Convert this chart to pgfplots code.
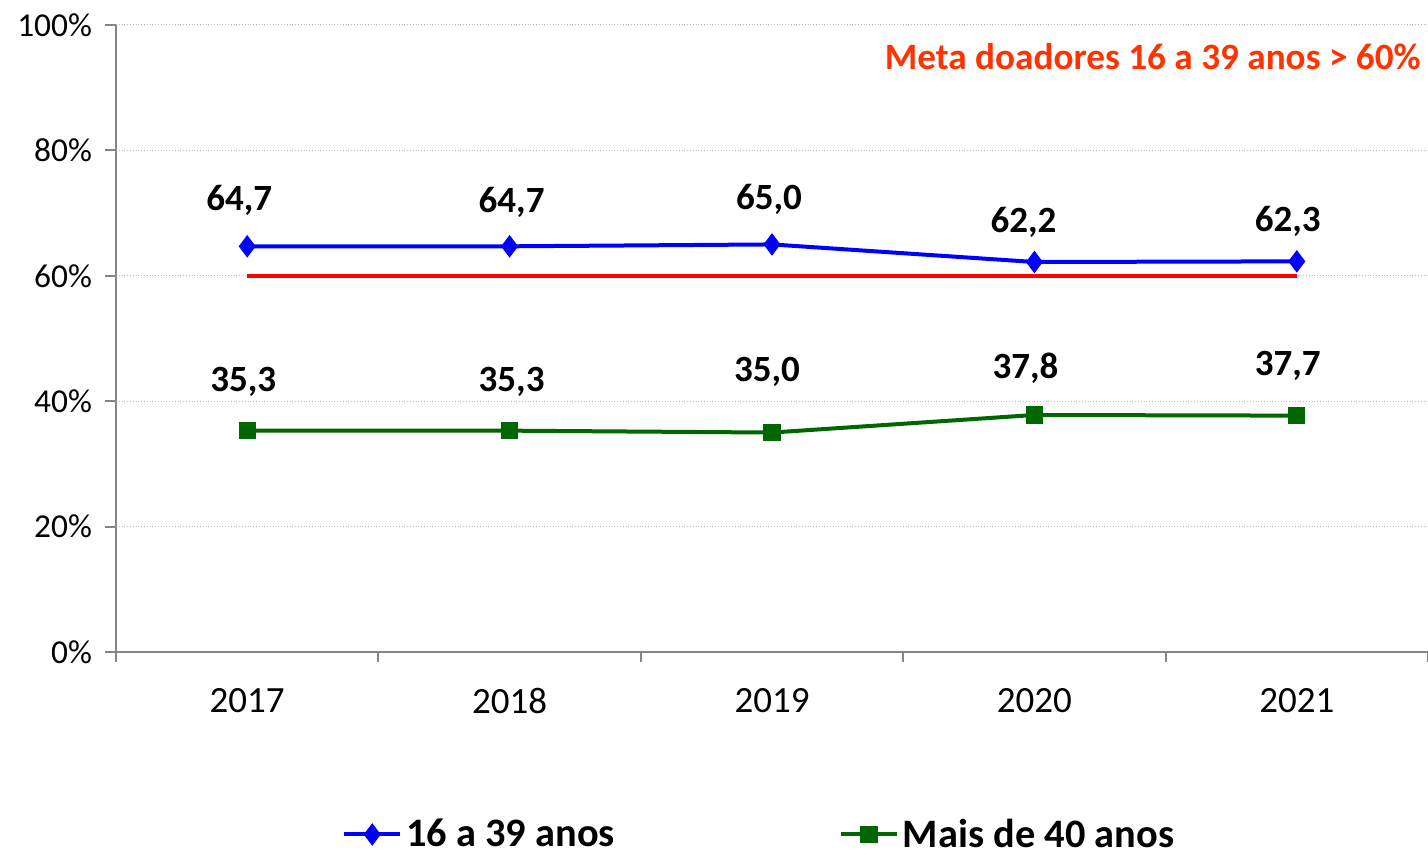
\documentclass[border=0pt]{standalone}
\usepackage{pgfplots}
\pgfplotsset{compat=1.18}
\usepackage{fontspec}
\setmainfont{Carlito}
\definecolor{serA}{RGB}{0,0,255}
\definecolor{serB}{RGB}{0,102,0}
\definecolor{metaC}{RGB}{255,51,0}
\definecolor{axgray}{RGB}{134,134,134}
\pgfplotsset{lbl/.style={
  point meta=explicit symbolic,
  nodes near coords={\pgfplotspointmeta},
  visualization depends on={\thisrow{xo} \as \xo},
  visualization depends on={\thisrow{yo} \as \yo},
  every node near coord/.append style={font=\bfseries\fontsize{18.5}{20}\selectfont, text=black, anchor=center, xshift=\xo pt, yshift=\yo pt}}}
\begin{document}
\begin{tikzpicture}
\begin{axis}[
  at={(0,0)}, anchor=south west,
  scale only axis, width=656pt, height=313.5pt,
  xmin=-0.5, xmax=4.5, ymin=0, ymax=100,
  axis x line=bottom, axis y line=left,
  axis line style={-, axgray, line width=1pt},
  xtick={0,1,2,3,4}, xticklabels={2017,2018,2019,2020,2021},
  major x tick style={draw=none},
  minor xtick={-0.5,0.5,1.5,2.5,3.5,4.5},
  minor x tick style={axgray, line width=1pt},
  minor tick length=5pt,
  ytick={0,20,40,60,80,100},
  yticklabels={0\%,20\%,40\%,60\%,80\%,100\%},
  ytick style={axgray, line width=1pt},
  major tick length=5.5pt,
  tick align=outside,
  ymajorgrids, major grid style={densely dotted, gray!55, line width=0.5pt},
  xticklabel style={yshift=-9pt, font=\fontsize{18.5}{20}\selectfont},
  yticklabel style={xshift=-3pt, font=\fontsize{16.7}{18}\selectfont},
  legend columns=2,
  legend style={at={(0.491,-0.291)}, anchor=center, draw=none, fill=none,
    font=\bfseries\fontsize{20.2}{22}\selectfont,
    /tikz/every even column/.append style={column sep=110pt},
    inner sep=0pt},
  legend cell align=left,
  legend image code/.code={\draw[mark repeat=2, mark phase=2, #1] plot coordinates {(0pt,0pt) (14pt,0pt) (28pt,0pt)};},
  clip=false,
]
\addplot[red, line width=2pt, forget plot] coordinates {(0,60) (4,60)};
\addplot[serA, line width=2pt, mark=diamond*, mark size=4pt, mark options={solid}, lbl]
  table[x=x, y=y, meta=lab] {
x y lab xo yo
0 64.7 64,7 -4 23
1 64.7 64,7 1 22
2 65.0 65,0 -1.5 22.5
3 62.2 62,2 -5.5 20
4 62.3 62,3 -4.5 20
};
\addlegendentry{16 a 39 anos}
\addplot[serB, line width=2pt, mark=square*, mark size=3.3pt, mark options={solid}, lbl]
  table[x=x, y=y, meta=lab] {
x y lab xo yo
0 35.3 35,3 -2 24.5
1 35.3 35,3 1 24.5
2 35.0 35,0 -2.5 30.5
3 37.8 37,8 -4.5 23.5
4 37.7 37,7 -4.5 25
};
\addlegendentry{Mais de 40 anos}
\node[anchor=east, text=metaC, font=\bfseries\fontsize{18.6}{20}\selectfont, inner sep=0pt] at (rel axis cs:0.9947,0.949) {Meta doadores 16 a 39 anos > 60\%};
\end{axis}
\pgfresetboundingbox
\path (-58pt,-101pt) rectangle (656pt,326pt);
\end{tikzpicture}
\end{document}
